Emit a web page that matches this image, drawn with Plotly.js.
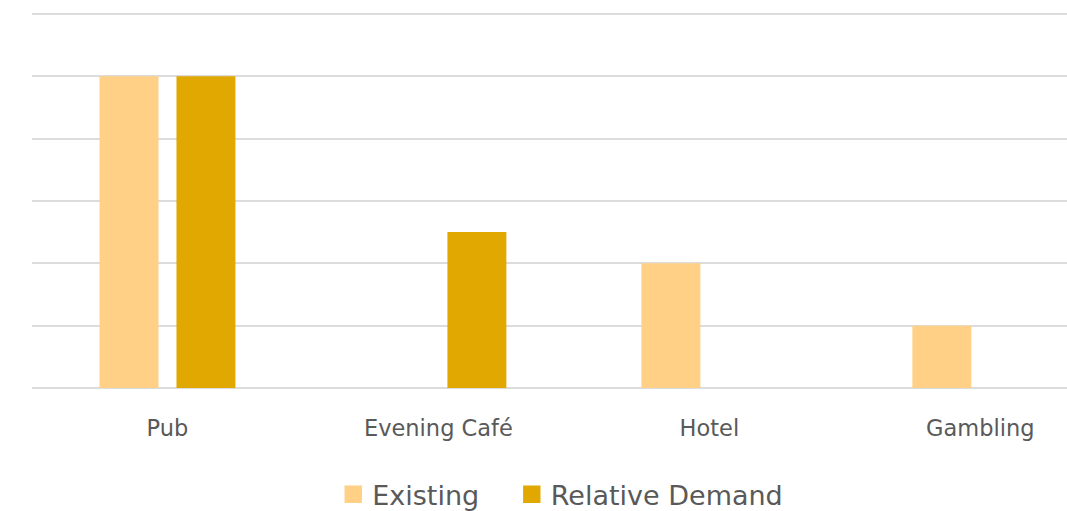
<!DOCTYPE html>
<html><head><meta charset="utf-8">
<script src="https://cdn.plot.ly/plotly-3.0.1.min.js"></script>
<style>html,body{margin:0;padding:0;background:#fff}#chart{width:1067px;height:511px}
.legendpoints path{scale:1.45;translate:-8px 0;transform-box:fill-box;transform-origin:center;}
</style>
</head><body><div id="chart"></div>
<script>
const categories = ["Pub", "Evening Café", "Hotel", "Gambling"];
const existing = [5, 0, 2, 1];
const relativeDemand = [5, 2.5, 0, 0];
const seriesNames = ["Existing", "Relative Demand"];

const traces = [
  {type:'bar', x:categories, y:existing, name:seriesNames[0], marker:{color:'#FFD085'}, legend:'legend'},
  {type:'bar', x:categories, y:relativeDemand, name:seriesNames[1], marker:{color:'#E0A800'}, legend:'legend2'}
];
const legendBase = {orientation:'h', xanchor:'left', y:-0.2186, yanchor:'top',
                    bgcolor:'rgba(0,0,0,0)', font:{size:27, color:'#595959'}};
const layout = {
  width:1067, height:511,
  margin:{l:31.5, r:0, t:12.1, b:123, autoexpand:false},
  paper_bgcolor:'#fff', plot_bgcolor:'#fff',
  barmode:'group', bargap:0.432, bargroupgap:0.234,
  font:{family:'"DejaVu Sans", sans-serif', color:'#595959', size:22},
  xaxis:{type:'category', range:[-0.5, 3.32], showgrid:false, zeroline:false, showline:false,
         ticks:'', ticklabelstandoff:24, tickfont:{size:22.5, color:'#595959'}},
  yaxis:{range:[0,6.03], tickvals:[0,1,2,3,4,5,6], showticklabels:false, showgrid:true, gridcolor:'#dcdcdc', gridwidth:2,
         zeroline:true, zerolinecolor:'#dcdcdc', zerolinewidth:2, ticks:''},
  legend:Object.assign({}, legendBase, {x:0.2901}),
  legend2:Object.assign({}, legendBase, {x:0.4626}),
  showlegend:true
};
Plotly.newPlot('chart', traces, layout, {staticPlot:true, displayModeBar:false});
</script></body></html>
